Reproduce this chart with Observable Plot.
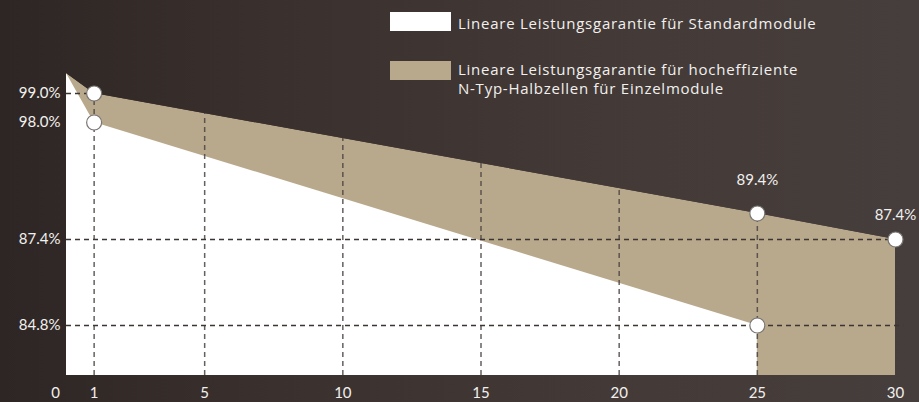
<!DOCTYPE html>
<html><head><meta charset="utf-8">
<script src="https://cdn.jsdelivr.net/npm/d3@7"></script>
<script src="https://cdn.jsdelivr.net/npm/@observablehq/plot@0.6"></script>
<style>
body{margin:0;background:#3a3230;}
#wrap{position:relative;width:919px;height:402px;overflow:hidden;font-family:Lato,"Open Sans",sans-serif;}
.sw{position:absolute;left:390px;width:61px;height:19px;}
.lt{position:absolute;left:458px;color:#f2f0ee;font-family:"Open Sans",sans-serif;font-size:15px;letter-spacing:0.75px;line-height:19px;white-space:nowrap;}
</style>
</head><body>
<div id="wrap"></div>
<script>
// ---- data ----
const stdYears = [0, 1, 25];
const stdValues = [100, 98.0, 84.8];
const highYears = [0, 1, 25, 30];
const highValues = [100, 99.0, 89.4, 87.4];
const xTicks = [0, 1, 5, 10, 15, 20, 25, 30];
const yTicks = [99.0, 98.0, 87.4, 84.8];
const vGrid = [1, 5, 10, 15, 20, 25];
const hGridY = [99.0, 87.4, 84.8];
const hGridEnd = [1, 30, 30.3];
const pointYears = [1, 1, 25, 30, 25];
const pointValues = [99.0, 98.0, 89.4, 87.4, 84.8];
const legendLabels = ["Lineare Leistungsgarantie für Standardmodule",
  "Lineare Leistungsgarantie für hocheffiziente<br>N-Typ-Halbzellen für Einzelmodule"];
const baseline = 83;
// piecewise (stylised) y scale knots
const yKnots = [83, 84.8, 87.4, 89.4, 98, 99, 100];
const yPix = [375, 325, 239, 213, 122, 93, 73];

const std = stdYears.map((x, i) => ({x, y: stdValues[i]}));
const high = highYears.map((x, i) => ({x, y: highValues[i]}));
const pts = pointYears.map((x, i) => ({x, y: pointValues[i]}));
const hGrid = hGridY.map((y, i) => ({y, x2: hGridEnd[i]}));

const TAN = "#b9a98c";
const DASH = "#3b3533";
const font = "Lato, 'Open Sans', sans-serif";

const chart = Plot.plot({
  width: 919, height: 402,
  marginLeft: 66, marginRight: 24, marginTop: 0, marginBottom: 27,
  style: {background: "transparent", fontFamily: font, overflow: "visible"},
  x: {domain: [0, 30], axis: null},
  y: {type: "linear", domain: yKnots, range: yPix, axis: null},
  marks: [
    Plot.areaY(high, {x: "x", y1: baseline, y2: "y", fill: TAN}),
    Plot.areaY(std, {x: "x", y1: baseline, y2: "y", fill: "#ffffff"}),
    Plot.ruleX(vGrid, {x: d => d, y1: baseline, y2: 100, stroke: "#4a4442", strokeWidth: 1.5, strokeDasharray: "5,4", strokeOpacity: 0.85}),
    Plot.ruleY(hGrid, {y: "y", x1: 0, x2: "x2", stroke: DASH, strokeWidth: 1.3, strokeDasharray: "5,4"}),
    Plot.areaY(high, {x: "x", y1: "y", y2: 106, fill: "url(#bggrad)"}),
    Plot.dot(pts, {x: "x", y: "y", r: 7.5, fill: "#ffffff", stroke: "#7a7674", strokeWidth: 1.2}),
    Plot.text(yTicks, {x: 0, y: d => d, text: d => d.toFixed(1) + "%", textAnchor: "end", dx: -6, fill: "#f2f0ee", fontSize: 15}),
    Plot.text(xTicks.filter(d => d !== 0), {x: d => d, y: baseline, text: d => String(d), dy: 18, fill: "#f2f0ee", fontSize: 15}),
    Plot.text([0], {x: d => d, y: baseline, text: d => String(d), dy: 18, dx: -11, fill: "#f2f0ee", fontSize: 15}),
    Plot.text([25], {x: d => d, y: 89.4, text: () => "89.4%", dy: -33, fill: "#f2f0ee", fontSize: 15}),
    Plot.text([30], {x: d => d, y: 87.4, text: () => "87.4%", dy: -24, fill: "#f2f0ee", fontSize: 15})
  ]
});

// background gradient shared by backdrop and mask
const ns = "http://www.w3.org/2000/svg";
const defs = document.createElementNS(ns, "defs");
defs.innerHTML = `<linearGradient id="bggrad" gradientUnits="userSpaceOnUse" x1="0" y1="0" x2="919" y2="0">
  <stop offset="0" stop-color="#2e2624"/>
  <stop offset="0.3" stop-color="#3a312e"/>
  <stop offset="0.7" stop-color="#443b38"/>
  <stop offset="1" stop-color="#463e3c"/>
</linearGradient>`;
const bg = document.createElementNS(ns, "rect");
bg.setAttribute("x", 0); bg.setAttribute("y", 0);
bg.setAttribute("width", 919); bg.setAttribute("height", 402);
bg.setAttribute("fill", "url(#bggrad)");
chart.insertBefore(bg, chart.firstChild);
chart.insertBefore(defs, chart.firstChild);

const wrap = document.getElementById("wrap");
wrap.appendChild(chart);

// legend
const legTop = [12, 61];
const legColors = ["#ffffff", TAN];
const textTop = [14, 60];
legendLabels.forEach((lab, i) => {
  const sw = document.createElement("div");
  sw.className = "sw"; sw.style.top = legTop[i] + "px"; sw.style.background = legColors[i];
  wrap.appendChild(sw);
  const t = document.createElement("div");
  t.className = "lt"; t.style.top = textTop[i] + "px"; t.innerHTML = lab;
  wrap.appendChild(t);
});
</script>
</body></html>
